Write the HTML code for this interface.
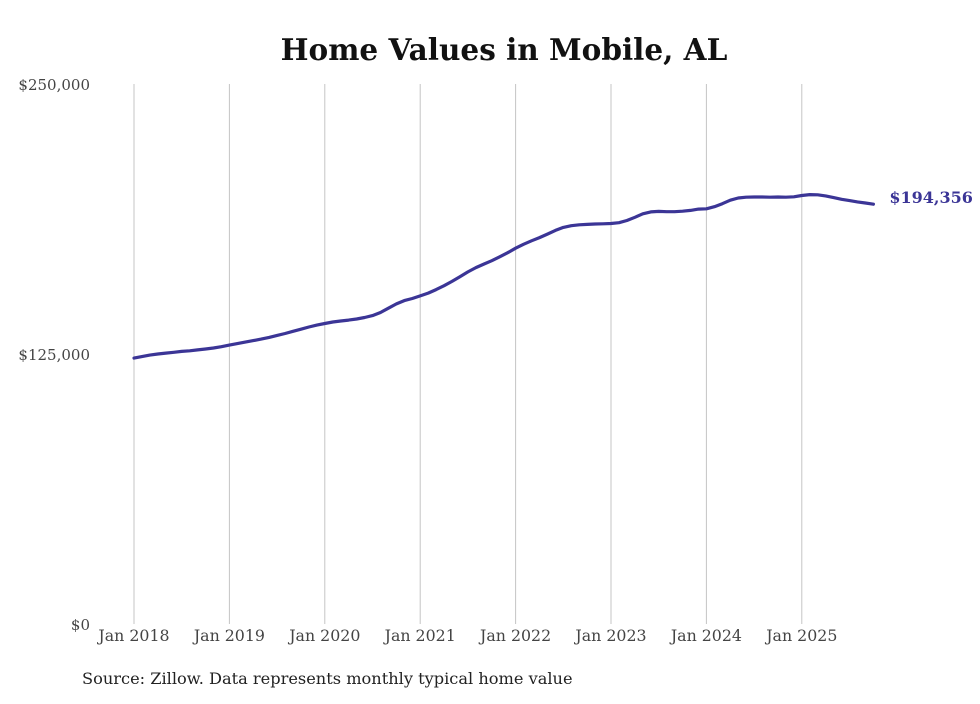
<!DOCTYPE html>
<html><head><meta charset="utf-8"><style>
body{margin:0;background:#fff;}
svg text{font-family:"DejaVu Serif","Liberation Serif",serif;}
</style></head><body>
<svg width="980" height="699" xmlns="http://www.w3.org/2000/svg">
<text x="504" y="60" text-anchor="middle" font-size="29.5" font-weight="bold" fill="#111">Home Values in Mobile, AL</text>
<g id="grid"></g>
<g id="axes"></g>
<path id="line" fill="none" stroke="#3b3596" stroke-width="3.2" stroke-linejoin="round" stroke-linecap="round"/>
<text id="endlabel" font-size="16" font-weight="bold" fill="#3b3596"></text>
<text x="82" y="684" font-size="16.2" fill="#222">Source: Zillow. Data represents monthly typical home value</text>
</svg>
<script>
const yearLabels=["Jan 2018","Jan 2019","Jan 2020","Jan 2021","Jan 2022","Jan 2023","Jan 2024","Jan 2025"];
const yTicks=[0,125000,250000];
const yTickLabels=["$0","$125,000","$250,000"];
const values=[
123100,123800,124500,125000,125400,125800,126200,126500,126900,127300,127800,128400,
129100,129800,130500,131200,131900,132700,133600,134500,135500,136500,137500,138400,
139100,139800,140300,140700,141200,141900,142800,144200,146200,148200,149700,150700,
151900,153200,154800,156600,158600,160800,163000,165000,166600,168200,170000,171900,
174000,175800,177400,178900,180500,182200,183600,184400,184800,185000,185200,185300,
185400,185800,186800,188300,189900,190800,191000,190900,190900,191100,191500,192100,
192200,193200,194600,196200,197200,197600,197700,197700,197600,197700,197600,197800,
198400,198800,198700,198200,197400,196600,196000,195400,194900,194356];
const endLabel="$194,356";
const NS="http://www.w3.org/2000/svg";
function xS(m){return 134+m*(95.4/12);}
function yS(v){return 624-v/250000*540;}
const grid=document.getElementById('grid'),axes=document.getElementById('axes');
yearLabels.forEach((lab,i)=>{
  const x=xS(i*12);
  const l=document.createElementNS(NS,'line');
  l.setAttribute('x1',x);l.setAttribute('x2',x);l.setAttribute('y1',84);l.setAttribute('y2',624);
  l.setAttribute('stroke','#c4c4c4');l.setAttribute('stroke-width','1');
  
  
  grid.appendChild(l);
  const t=document.createElementNS(NS,'text');
  t.setAttribute('x',x);t.setAttribute('y',641);t.setAttribute('text-anchor','middle');
  t.setAttribute('font-size','15.8');t.setAttribute('fill','#444');t.textContent=lab;
  
  
  axes.appendChild(t);
});
yTicks.forEach((v,i)=>{
  const t=document.createElementNS(NS,'text');
  t.setAttribute('x',90);t.setAttribute('y',yS(v)+6);t.setAttribute('text-anchor','end');
  t.setAttribute('font-size','15');t.setAttribute('fill','#444');t.textContent=yTickLabels[i];
  
  
  axes.appendChild(t);
});
let d='';
values.forEach((v,i)=>{d+=(i?'L':'M')+xS(i).toFixed(1)+','+yS(v).toFixed(1);});
document.getElementById('line').setAttribute('d',d);
const last=values.length-1,el=document.getElementById('endlabel');
el.setAttribute('x',xS(last)+16);el.setAttribute('y',yS(values[last])-1);el.textContent=endLabel;
</script>
</body></html>
